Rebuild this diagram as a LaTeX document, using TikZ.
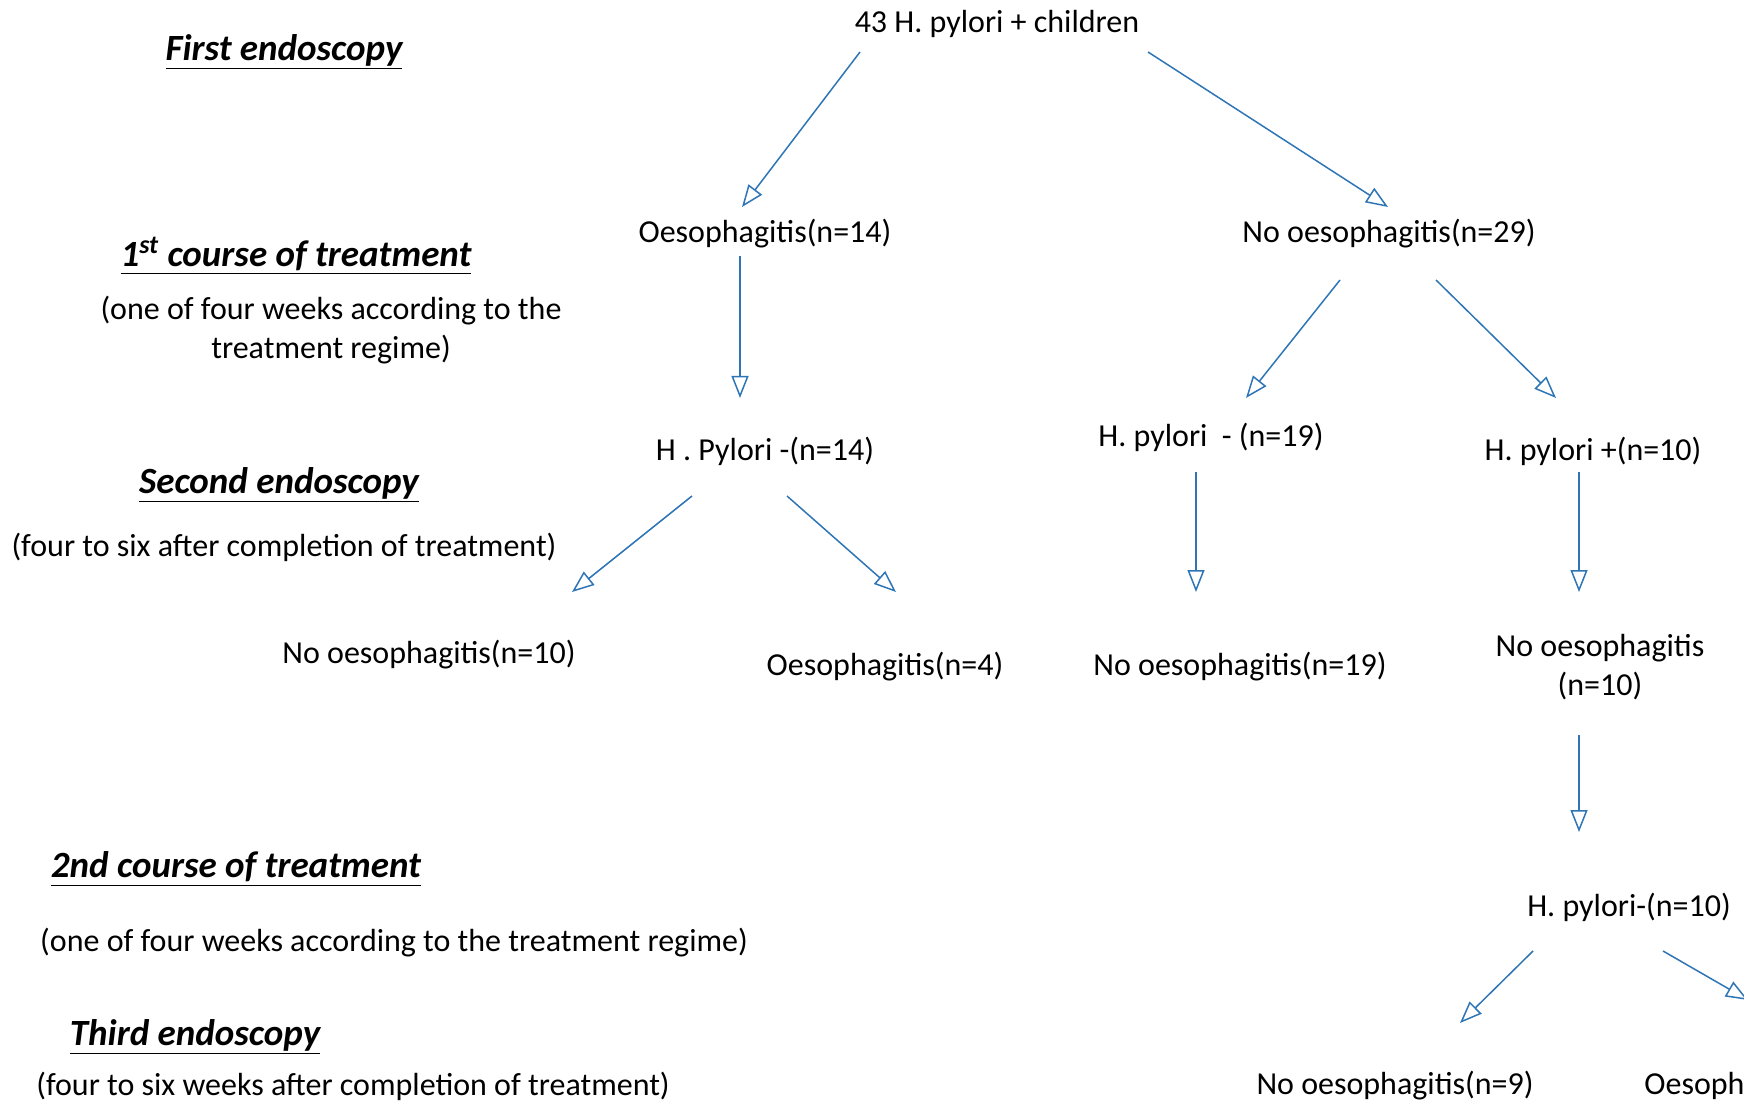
\documentclass[tikz,border=0pt]{standalone}
\usepackage{fontspec}
\setmainfont{Carlito}
\usetikzlibrary{arrows.meta, calc, positioning}
\definecolor{arrowblue}{RGB}{46,117,182}

\begin{document}
\begin{tikzpicture}[x=0.5pt, y=-0.5pt, font=\fontsize{16}{19.5}\selectfont]
  \tikzset{lbl/.style={inner sep=0pt, align=center, yshift=-1pt}}
  \tikzset{hdg/.style={lbl, font=\fontsize{18.5}{22}\selectfont\bfseries\itshape}}
  \tikzset{ptr/.style={draw=arrowblue, line width=0.75pt, -{Triangle[open, length=11pt, width=8.5pt]}}}
  \newcommand\stagehdg[1]{\setlength{\fboxrule}{0pt}\underline{#1}}
  \useasboundingbox (0,0) rectangle (1744,1101);

  % stages
  \node[hdg] (st-first) at (284,50) {\stagehdg{First endoscopy}};
  \node[hdg] (st-course1) at (296,254) {\stagehdg{1\textsuperscript{st} course of treatment}};
  \node[lbl] (st-course1-txt) at (331,328) {(one of four weeks according to the\\treatment regime)};
  \node[hdg] (st-second) at (279,483) {\stagehdg{Second endoscopy}};
  \node[lbl] (st-second-txt) at (284,545) {(four to six after completion of treatment)};
  \node[hdg] (st-course2) at (236,867) {\stagehdg{2nd course of treatment}};
  \node[lbl] (st-course2-txt) at (394,941) {(one of four weeks according to the treatment regime)};
  \node[hdg] (st-third) at (195,1035) {\stagehdg{Third endoscopy}};
  \node[lbl] (st-third-txt) at (353,1084) {(four to six weeks after completion of treatment)};

  % tree
  \node[lbl] (root) at (997,22) {43 H. pylori + children};
  \node[lbl] (oes14) at (765,232) {Oesophagitis(n=14)};
  \node[lbl] (noes29) at (1389,232) {No oesophagitis(n=29)};
  \node[lbl] (hp14) at (765,449) {H . Pylori -(n=14)};
  \node[lbl] (hp19) at (1211,435) {H. pylori\ \ - (n=19)};
  \node[lbl] (hpp10) at (1593,449) {H. pylori +(n=10)};
  \node[lbl] (noes10) at (429,653) {No oesophagitis(n=10)};
  \node[lbl] (oes4) at (885,665) {Oesophagitis(n=4)};
  \node[lbl] (noes19) at (1240,665) {No oesophagitis(n=19)};
  \node[lbl] (noes10b) at (1600,665) {No oesophagitis\\(n=10)};
  \node[lbl] (hpm10) at (1629,905) {H. pylori-(n=10)};
  \node[lbl] (noes9) at (1395,1084) {No oesophagitis(n=9)};
  \node[lbl, anchor=west] (oes1) at (1644,1084) {Oesophagitis(n=1)};

  % arrows
  \foreach \a/\ax/\ay/\b/\bx/\by in {
      root/-137/28/oes14/-23/-27,
      root/151/28/noes29/-1/-27,
      oes14/-25/22/hp14/-25/-53,
      noes29/-49/46/hp19/35/-39,
      noes29/47/46/hpp10/-37/-53,
      hp14/-73/45/noes10/143/-63,
      hp14/22/45/oes4/11/-75,
      hp19/-15/35/noes19/-44/-75,
      hpp10/-14/21/noes10b/-21/-75,
      noes10b/-21/68/hpm10/-50/-75,
      hpm10/-96/44/noes9/65/-63,
      hpm10/34/44/oes1.west/104/-86}{
    \draw[ptr] ($(\a)+(\ax,\ay)$) -- ($(\b)+(\bx,\by)$);
  }
\end{tikzpicture}
\end{document}
